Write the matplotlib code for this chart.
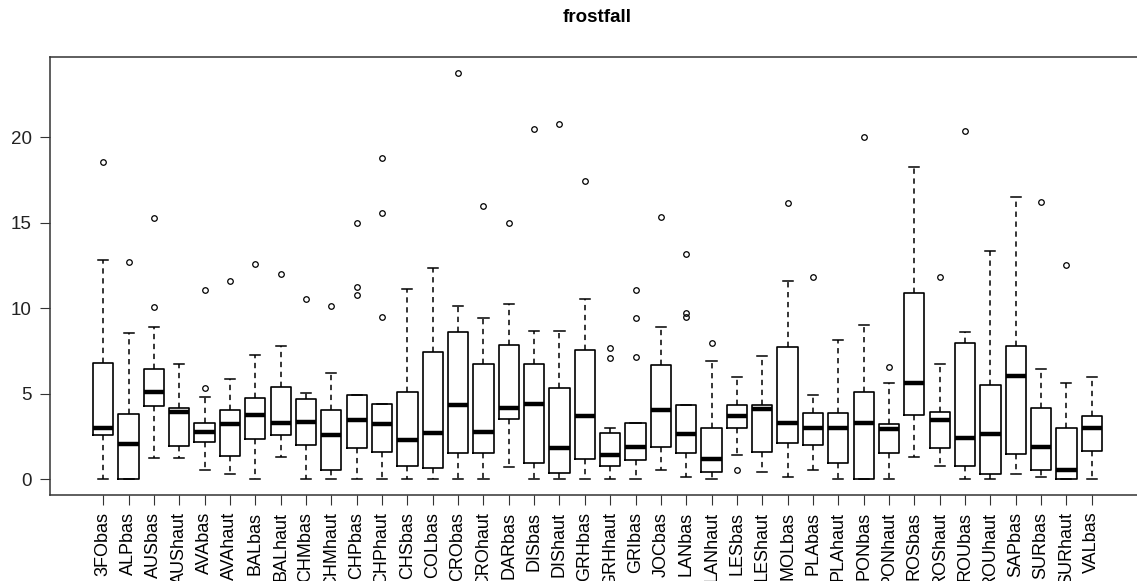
# -*- coding: utf-8 -*-
# frostfall: boxplot por estación (estilo R base)

import matplotlib
matplotlib.use("Agg")
import matplotlib.pyplot as plt

# =========================
# DATOS
# =========================
categories = [
    "3FObas", "ALPbas", "AUSbas", "AUShaut", "AVAbas", "AVAhaut", "BALbas", "BALhaut",
    "CHMbas", "CHMhaut", "CHPbas", "CHPhaut", "CHSbas", "COLbas", "CRObas", "CROhaut",
    "DARbas", "DISbas", "DIShaut", "GRHbas", "GRHhaut", "GRIbas", "JOCbas", "LANbas",
    "LANhaut", "LESbas", "LEShaut", "MOLbas", "PLAbas", "PLAhaut", "PONbas", "PONhaut",
    "ROSbas", "ROShaut", "ROUbas", "ROUhaut", "SAPbas", "SURbas", "SURhaut", "VALbas",
]

whislo = [0, 0, 1.23, 1.23, 0.54, 0.27, 0, 1.32, 0, 0, 0, 0, 0, 0, 0, 0, 0.72, 0, 0, 0,
          0, 0, 0.56, 0.13, 0, 1.38, 0.41, 0.13, 0.56, 0, 0, 0, 1.30, 0.78, 0, 0, 0.27, 0.13, 0, 0]

q1 = [2.55, 0, 4.30, 1.96, 2.18, 1.36, 2.33, 2.55, 2.02, 0.56, 1.81, 1.59, 0.78, 0.64, 1.52,
      1.52, 3.50, 0.93, 0.35, 1.15, 0.78, 1.09, 1.89, 1.52, 0.41, 2.99, 1.59, 2.10, 2.02, 0.93,
      0, 1.52, 3.74, 1.81, 0.78, 0.27, 1.44, 0.56, 0, 1.67]

med = [2.98, 2.04, 5.08, 3.95, 2.78, 3.21, 3.74, 3.29, 3.36, 2.55, 3.46, 3.21, 2.29, 2.70, 4.32,
       2.78, 4.16, 4.40, 1.83, 3.66, 1.38, 1.90, 4.04, 2.63, 1.17, 3.66, 4.10, 3.29, 2.99, 2.99,
       3.29, 2.92, 5.60, 3.44, 2.41, 2.63, 6.03, 1.89, 0.56, 2.99]

q3 = [6.77, 3.81, 6.46, 4.18, 3.30, 4.05, 4.77, 5.41, 4.69, 4.04, 4.90, 4.40, 5.08, 7.41, 8.58,
      6.75, 7.86, 6.75, 5.35, 7.57, 2.70, 3.30, 6.69, 4.32, 2.99, 4.32, 4.32, 7.72, 3.89, 3.89,
      5.08, 3.21, 10.88, 3.95, 7.94, 5.50, 7.80, 4.18, 2.99, 3.66]

whishi = [12.80, 8.52, 8.91, 6.75, 4.82, 5.86, 7.27, 7.80, 5.06, 6.19, 4.90, 4.40, 11.11, 12.35,
          10.13, 9.43, 10.22, 8.66, 8.66, 10.53, 2.99, 3.30, 8.91, 4.32, 6.91, 5.99, 7.20, 11.56,
          4.90, 8.13, 9.03, 5.60, 18.25, 6.75, 8.58, 13.31, 16.50, 6.44, 5.60, 5.99]

outliers = [
    [18.54], [12.72], [15.24, 10.08], [], [11.05, 5.35], [11.56], [12.57], [11.98],
    [10.51], [10.13], [15.0, 11.24, 10.74], [18.78, 15.53, 9.49], [], [], [23.76], [15.97],
    [15.0], [20.45], [20.76], [17.45], [7.66, 7.06], [11.05, 9.41, 7.16], [15.31], [13.17, 9.69, 9.45],
    [7.94], [0.56], [], [16.17], [11.83], [], [20.02], [6.54],
    [], [11.83], [20.33], [], [], [16.19], [12.51], [],
]

yticks = [0, 5, 10, 15, 20]

# =========================
# GRÁFICO
# =========================
plt.rcParams["font.family"] = ["Liberation Sans", "DejaVu Sans"]

stats = []
for i, name in enumerate(categories):
    stats.append({
        "label": name,
        "whislo": whislo[i], "q1": q1[i], "med": med[i],
        "q3": q3[i], "whishi": whishi[i], "fliers": outliers[i],
    })

fig = plt.figure(figsize=(11.37, 5.81), dpi=100)
fig.patch.set_facecolor("white")
# region de trazado en pixeles: x 50..1145, y 57..495 (se recorta a la derecha)
ax = fig.add_axes([50 / 1137, (581 - 495) / 581, 1095 / 1137, 438 / 581])

pos = list(range(1, len(categories) + 1))
ax.bxp(
    stats, positions=pos, widths=0.8, capwidths=0.4, patch_artist=False,
    boxprops=dict(color="black", linewidth=1.2),
    medianprops=dict(color="black", linewidth=3.2, solid_capstyle="butt"),
    whiskerprops=dict(color="black", linewidth=1.1, linestyle=(0, (3.5, 3))),
    capprops=dict(color="black", linewidth=1.1),
    flierprops=dict(marker="o", markerfacecolor="none", markeredgecolor="black",
                    markersize=4, markeredgewidth=0.9),
)

ax.set_xlim(-1.1, 42.1)
ax.set_ylim(-0.93, 24.68)
ax.set_xticks(pos)
ax.set_xticklabels(categories, rotation=90, fontsize=13)
ax.set_yticks(yticks)
ax.set_yticklabels([str(v) for v in yticks], fontsize=13.5)
ax.tick_params(axis="both", direction="out", length=7, width=0.8, color="#333333")
ax.tick_params(axis="x", pad=5)
ax.tick_params(axis="y", pad=6, labelcolor="#222222")
for sp in ax.spines.values():
    sp.set_color("#333333")
    sp.set_linewidth(1.1)

fig.text(597 / 1137, 1 - 18 / 581, "frostfall", ha="center", va="center",
         fontsize=13.5, fontweight="bold")

fig.savefig("out.png", dpi=100, facecolor="white")
plt.close(fig)
